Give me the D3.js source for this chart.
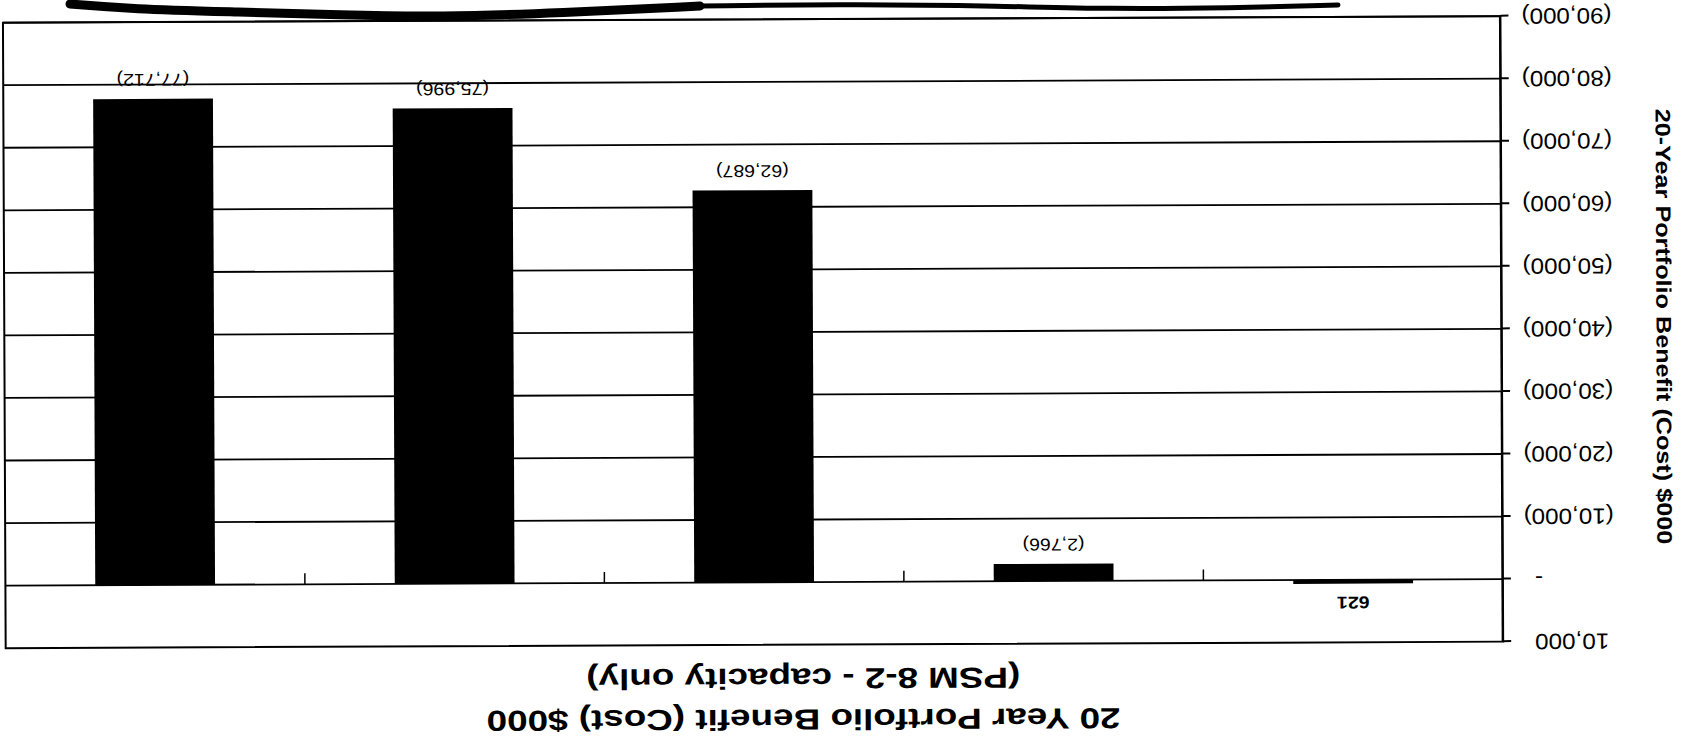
<!DOCTYPE html>
<html>
<head>
<meta charset="utf-8">
<script src="https://cdn.jsdelivr.net/npm/d3@7"></script>
<style>
  html, body { margin: 0; padding: 0; background: #fff; }
  svg { display: block; }
  text { font-family: "Liberation Sans", Arial, Helvetica, sans-serif; fill: #000; }
</style>
</head>
<body>
<script>
// ---- data (read from the scanned, upside-down chart; order = upright left to right) ----
const categories = ["Portfolio 1", "Portfolio 2", "Portfolio 3", "Portfolio 4", "Portfolio 5"];
const values = [621, -2766, -62687, -75996, -77712];
const yTicks = [10000, 0, -10000, -20000, -30000, -40000, -50000, -60000, -70000, -80000, -90000];
const titleLines = ["20 Year Portfolio Benefit (Cost) $000", "(PSM 8-2 - capacity only)"];
const yAxisTitle = "20-Year Portfolio Benefit (Cost) $000";

// ---- layout (upright coordinates; whole chart is then turned upside down like the scan) ----
const W = 1689, H = 751;
const plot = { left: 187, right: 1684.5, top: 106.5, bottom: 732 };

const svg = d3.select("body").append("svg").attr("width", W).attr("height", H);
svg.append("rect").attr("width", W).attr("height", H).attr("fill", "#fff");

const g = svg.append("g").attr("transform", `rotate(179.75 ${W / 2} ${H / 2})`);

const x = d3.scaleBand().domain(categories).range([plot.left, plot.right])
  .paddingInner(0.6).paddingOuter(0.3);
const y = d3.scaleLinear().domain([10000, -90000]).range([plot.top, plot.bottom]);

const fmt = v => v === 0 ? "-" : (v < 0 ? "(" + d3.format(",")(-v) + ")" : d3.format(",")(v));

function stretch(sel, factor) {
  sel.each(function () {
    const n = this.getComputedTextLength();
    d3.select(this).attr("textLength", n * factor).attr("lengthAdjust", "spacingAndGlyphs");
  });
}

// gridlines
g.append("g").selectAll("line").data(yTicks.filter(v => v < 10000)).join("line")
  .attr("x1", plot.left).attr("x2", plot.right)
  .attr("y1", d => y(d)).attr("y2", d => y(d))
  .attr("stroke", "#000").attr("stroke-width", 1.8);

// plot frame
g.append("rect")
  .attr("x", plot.left).attr("y", plot.top)
  .attr("width", plot.right - plot.left).attr("height", plot.bottom - plot.top)
  .attr("fill", "none").attr("stroke", "#000").attr("stroke-width", 2);

// bars
g.append("g").selectAll("rect").data(values).join("rect")
  .attr("x", (d, i) => x(categories[i]))
  .attr("width", x.bandwidth())
  .attr("y", d => Math.min(y(d), y(0)))
  .attr("height", d => Math.abs(y(d) - y(0)))
  .attr("fill", "#000");

// category axis tick marks (between categories, on the zero line)
const catTicks = categories.slice(1).map(c => x(c) - x.step() * x.paddingInner() / 2);
g.append("g").selectAll("line").data(catTicks).join("line")
  .attr("x1", d => d).attr("x2", d => d)
  .attr("y1", y(0)).attr("y2", y(0) + 11)
  .attr("stroke", "#000").attr("stroke-width", 1.5);

// value axis
const yAxis = g.append("g").attr("transform", `translate(${plot.left},0)`)
  .call(d3.axisLeft(y).tickValues(yTicks).tickFormat(fmt).tickSize(8).tickSizeOuter(0).tickPadding(13));
yAxis.select(".domain").attr("stroke", "#000").attr("stroke-width", 2);
yAxis.selectAll(".tick line").attr("stroke", "#000").attr("stroke-width", 2);
yAxis.selectAll(".tick text")
  .attr("font-size", 22).attr("fill", "#000")
  .attr("font-family", "'Liberation Sans', Arial, sans-serif")
  .attr("dx", d => d >= 0 ? -11 : 0);
stretch(yAxis.selectAll(".tick text"), 1.1);

// data labels
const lab = g.append("g").selectAll("text").data(values).join("text")
  .attr("x", (d, i) => x(categories[i]) + x.bandwidth() / 2)
  .attr("y", d => d < 0 ? y(d) + 19 : y(d) - 19)
  .attr("dy", "0.35em")
  .attr("text-anchor", "middle")
  .attr("font-size", 17)
  .attr("font-weight", d => d >= 0 ? "bold" : "normal")
  .text(fmt);
stretch(lab, 1.15);

// axis title
const at = g.append("text")
  .attr("transform", "translate(25,421) rotate(-90)")
  .attr("text-anchor", "middle").attr("dy", "0.35em")
  .attr("font-size", 21).attr("font-weight", "bold")
  .text(yAxisTitle);
stretch(at, 1.2);

// chart title
const tt = g.append("g").selectAll("text").data(titleLines).join("text")
  .attr("x", 887)
  .attr("y", (d, i) => 31.5 + i * 41)
  .attr("dy", "0.35em")
  .attr("text-anchor", "middle")
  .attr("font-size", 29).attr("font-weight", "bold")
  .text(d => d);
stretch(tt, 1.27);

// scan artefact (thick black smudge along the top edge of the scanned page)
const smudge = [[70, 4], [130, 9], [240, 12], [340, 15], [440, 17], [560, 13], [700, 6], [860, 4], [1000, 6], [1110, 9], [1230, 8], [1338, 5]];
svg.append("path")
  .attr("d", d3.line().curve(d3.curveBasis)(smudge.slice(0, 7)))
  .attr("fill", "none").attr("stroke", "#000").attr("stroke-width", 9).attr("stroke-linecap", "round");
svg.append("path")
  .attr("d", d3.line().curve(d3.curveBasis)(smudge.slice(6)))
  .attr("fill", "none").attr("stroke", "#000").attr("stroke-width", 5).attr("stroke-linecap", "round");
</script>
</body>
</html>
